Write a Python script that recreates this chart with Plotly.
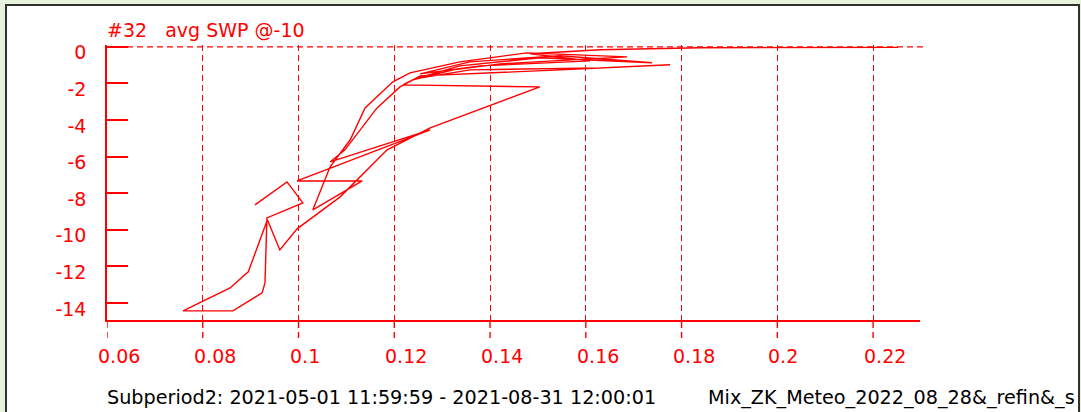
import plotly.graph_objects as go

# ---- data ----
swc = [0.0909, 0.0976, 0.1009, 0.0934, 0.0930, 0.0924, 0.0863, 0.0759, 0.0857, 0.0895,
       0.0935, 0.0961, 0.0997, 0.1087, 0.1185, 0.1275, 0.1504, 0.1218, 0.1239, 0.1323,
       0.1421, 0.1686, 0.1477, 0.1337, 0.1233, 0.1197, 0.1139, 0.1108, 0.1066, 0.1030,
       0.1133, 0.0997, 0.1275, 0.1066, 0.1097, 0.1164, 0.1212, 0.1254, 0.1546, 0.1776,
       0.1630, 0.1358, 0.1243, 0.1337, 0.1504, 0.1738, 0.1546, 0.1358, 0.1254, 0.1379,
       0.1609, 0.1484, 0.1630, 0.1839, 0.2252]
swp = [-8.64, -7.38, -8.53, -9.35, -12.90, -13.45, -14.43, -14.43, -13.18, -12.30,
       -9.45, -11.10, -9.95, -8.20, -5.63, -4.43, -2.19, -2.08, -1.80, -1.26,
       -0.93, -0.55, -0.33, -0.82, -1.42, -1.91, -3.34, -5.08, -6.56, -8.91,
       -7.33, -7.33, -4.54, -6.29, -5.63, -3.34, -2.19, -1.59, -1.26, -0.98,
       -1.15, -1.26, -1.75, -1.04, -0.60, -0.87, -0.49, -0.82, -1.48, -1.04,
       -0.77, -0.38, -0.16, -0.05, -0.03]

x_ticks = [0.06, 0.08, 0.10, 0.12, 0.14, 0.16, 0.18, 0.20, 0.22]
x_tick_text = ["0.06", "0.08", "0.1", "0.12", "0.14", "0.16", "0.18", "0.2", "0.22"]
y_ticks = [0, -2, -4, -6, -8, -10, -12, -14]
y_tick_text = ["0", "-2", "-4", "-6", "-8", "-10", "-12", "-14"]

title_text = "#32   avg SWP @-10"
period_text = "Subperiod2: 2021-05-01 11:59:59 - 2021-08-31 12:00:01"
source_text = "Mix_ZK_Meteo_2022_08_28&_refin&_s"

# ---- layout constants ----
W, H = 1081, 412
L, R, T, B = 107, 161, 45, 92
PW, PH = W - L - R, H - T - B
RED = "#ff0000"
FONT = "DejaVu Sans"
FS = 19
DASH = "6px,4px"


def px(xp):
    return (xp - L) / PW


def py(yp):
    return (H - B - yp) / PH


fig = go.Figure()
fig.add_trace(go.Scatter(x=swc, y=swp, mode="lines",
                         line=dict(color=RED, width=1.4), hoverinfo="skip",
                         showlegend=False))

shapes = [
    # window frame
    dict(type="rect", xref="paper", yref="paper", layer="below",
         x0=px(6), x1=px(1079), y0=py(430), y1=py(5),
         fillcolor="white", line=dict(color="#303030", width=2)),
    # dashed line at 0
    dict(type="line", xref="paper", yref="y", x0=0, x1=px(923), y0=0, y1=0,
         line=dict(color=RED, width=1.4, dash=DASH)),
]
for xv in x_ticks:
    shapes.append(dict(type="line", xref="x", yref="paper", x0=xv, x1=xv,
                       y0=py(322), y1=py(340),
                       line=dict(color=RED, width=1.4, dash=DASH)))

annotations = [
    dict(text=title_text, xref="paper", yref="paper", x=px(105), y=py(30),
         xanchor="left", yanchor="middle", showarrow=False,
         font=dict(family=FONT, size=FS, color=RED)),
    dict(text=period_text, xref="paper", yref="paper", x=px(105), y=py(397),
         xanchor="left", yanchor="middle", showarrow=False,
         font=dict(family=FONT, size=19.2, color="black")),
    dict(text=source_text, xref="paper", yref="paper", x=px(706), y=py(397),
         xanchor="left", yanchor="middle", showarrow=False,
         font=dict(family=FONT, size=19.2, color="black")),
]
for xv, tt in zip(x_ticks, x_tick_text):
    annotations.append(dict(text=tt, xref="x", yref="paper", x=xv, y=py(356),
                            xanchor="left", yanchor="middle", xshift=-11,
                            showarrow=False,
                            font=dict(family=FONT, size=FS, color=RED)))

fig.update_layout(
    width=W, height=H,
    margin=dict(l=L, r=R, t=T, b=B, pad=0),
    paper_bgcolor="#e6f3da",
    plot_bgcolor="rgba(0,0,0,0)",
    showlegend=False,
    xaxis=dict(range=[0.06, 0.2298], tickvals=x_ticks, showticklabels=False,
               ticks="", showgrid=True, gridcolor=RED, gridwidth=1.4,
               griddash=DASH, zeroline=False, showline=True, linecolor=RED,
               linewidth=1.5, fixedrange=True),
    yaxis=dict(range=[-14.93, 0.1], tickvals=y_ticks, ticktext=y_tick_text,
               ticks="inside", ticklen=21, tickwidth=1.5, tickcolor=RED,
               showgrid=False, zeroline=False, showline=True, linecolor=RED,
               linewidth=1.5, ticklabelstandoff=15, ticklabelshift=6,
               tickfont=dict(family=FONT, size=FS, color=RED), fixedrange=True),
    shapes=shapes,
    annotations=annotations,
)

fig.write_html("out.html")
